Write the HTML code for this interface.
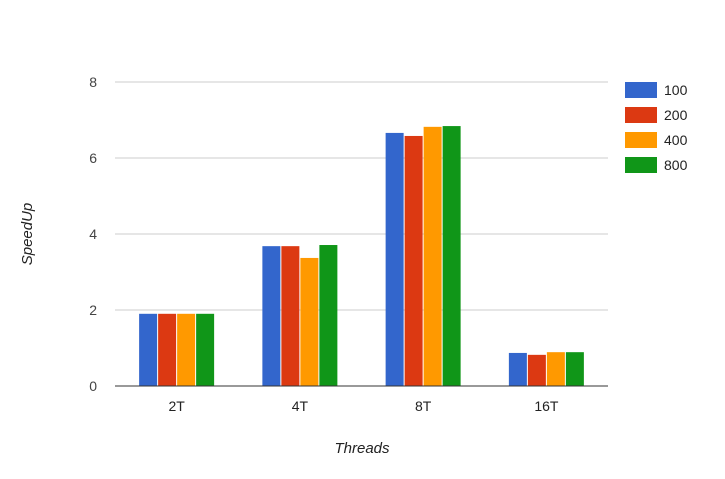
<!DOCTYPE html>
<html><head><meta charset="utf-8"><style>
body{margin:0;background:#fff;font-family:"Liberation Sans",Arial,sans-serif}
svg text{font-family:"Liberation Sans",Arial,sans-serif}
</style></head><body>
<svg id="c" width="725" height="474"></svg>
<script>
const categories=["2T","4T","8T","16T"];
const seriesNames=["100","200","400","800"];
const s100=[1.9,3.68,6.66,0.87];
const s200=[1.9,3.68,6.58,0.82];
const s400=[1.9,3.37,6.82,0.89];
const s800=[1.9,3.71,6.84,0.89];
const yTicks=[0,2,4,6,8];
const series=[s100,s200,s400,s800];
const colors=["#3366cc","#dc3912","#ff9900","#109618"];
const svg=document.getElementById('c');
const NS="http://www.w3.org/2000/svg";
const x0=115,x1=608,yb=386,yt=82,ymax=8;
const y=v=>yb-(v/ymax)*(yb-yt);
const gw=(x1-x0)/categories.length;
function mk(t,a,txt){const e=document.createElementNS(NS,t);for(const k in a)e.setAttribute(k,a[k]);if(txt!=null)e.textContent=txt;svg.appendChild(e);return e;}
yTicks.forEach(v=>{
 const l=mk('line',{x1:x0,x2:x1,y1:y(v),y2:y(v),stroke:v===0?'#333':'#ccc','stroke-width':1});
 
 
 const t=mk('text',{x:97,y:y(v)+5,'text-anchor':'end','font-size':14,fill:'#444'},String(v));
 
 
});
const bw=18,gap=1;
categories.forEach((c,i)=>{
 const cx=x0+gw*(i+0.5);
 const start=cx-(4*bw+3*gap)/2;
 series.forEach((s,j)=>{
  const r=mk('rect',{x:start+j*(bw+gap),y:y(s[i]),width:bw,height:yb-y(s[i]),fill:colors[j]});
  
  
 });
 const t=mk('text',{x:cx,y:411,'text-anchor':'middle','font-size':14,fill:'#222'},c);
 
 
});
mk('line',{x1:x0,x2:x1,y1:yb,y2:yb,stroke:'#333','stroke-width':1});
seriesNames.forEach((n,j)=>{
 const r=mk('rect',{x:625,y:82+j*25,width:32,height:16,fill:colors[j]});
 
 
 const t=mk('text',{x:664,y:95+j*25,'font-size':14,fill:'#222'},n);
 
 
});
const xt=mk('text',{x:362,y:453,'text-anchor':'middle','font-size':15,'font-style':'italic',fill:'#222'},'Threads');


const yt2=mk('text',{x:0,y:0,'text-anchor':'middle','font-size':15,'font-style':'italic',fill:'#222',transform:'translate(32,234) rotate(-90)'},'SpeedUp');


</script>
</body></html>
